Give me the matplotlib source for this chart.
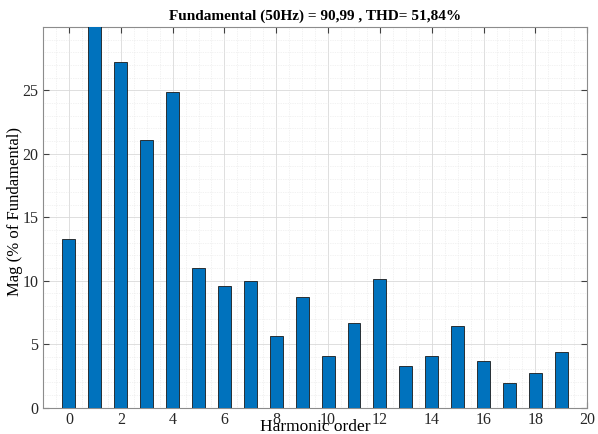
import matplotlib.pyplot as plt
from matplotlib.ticker import MultipleLocator
import numpy as np

# harmonic spectrum, magnitude in % of fundamental (fundamental = 100, clipped by ylim)
harmonics = np.arange(0, 20)
mag = [13.3, 100.0, 27.2, 21.1, 24.9, 11.0, 9.6, 9.95, 5.6, 8.7,
       4.1, 6.65, 10.15, 3.3, 4.1, 6.45, 3.7, 1.9, 2.75, 4.35]
xticks = [0, 2, 4, 6, 8, 10, 12, 14, 16, 18, 20]
yticks = [0, 5, 10, 15, 20, 25]

plt.rcParams['font.family'] = ['Liberation Serif', 'DejaVu Serif']

fig = plt.figure(figsize=(5.98, 4.34), dpi=100)
ax = fig.add_axes([0.072, 0.061, 0.910, 0.877])

ax.bar(harmonics, mag, width=0.5, color='#0072BD', edgecolor='#1a1a1a', linewidth=0.6, zorder=3)

ax.set_xlim(-1, 20)
ax.set_ylim(0, 30)
ax.set_xticks(xticks)
ax.set_yticks(yticks)
ax.xaxis.set_minor_locator(MultipleLocator(0.5))
ax.yaxis.set_minor_locator(MultipleLocator(1))

ax.grid(which='major', color='#d9d9d9', linewidth=0.6, zorder=0)
ax.grid(which='minor', color='#e6e6e6', linewidth=0.5, linestyle=(0, (1, 1.5)), zorder=0)
ax.tick_params(which='major', direction='in', top=True, right=True, length=4,
               labelsize=11.5, color='#404040', labelcolor='#262626')
ax.tick_params(which='minor', length=0)
for sp in ax.spines.values():
    sp.set_color('#8c8c8c')
    sp.set_linewidth(0.8)

ax.set_title('Fundamental (50Hz) = 90,99 , THD= 51,84%', fontsize=11, fontweight='bold', pad=5)
ax.set_xlabel('Harmonic order', fontsize=12.5, labelpad=-7)
ax.set_ylabel('Mag (% of Fundamental)', fontsize=12)
ax.yaxis.set_label_coords(-0.036, 0.515)

fig.savefig('out.png', dpi=100)
